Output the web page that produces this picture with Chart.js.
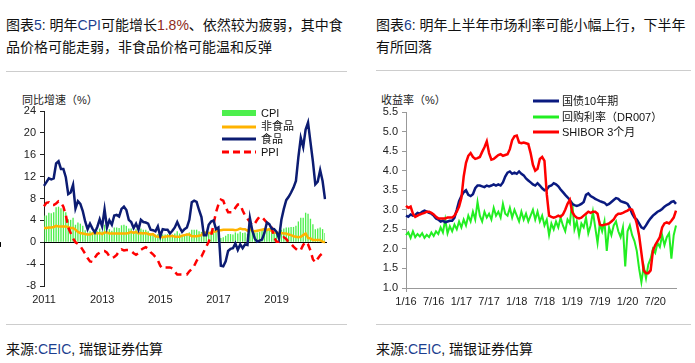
<!DOCTYPE html>
<html>
<head>
<meta charset="utf-8">
<script src="https://cdn.jsdelivr.net/npm/chart.js@4.4.0/dist/chart.umd.min.js"></script>
<style>
  body { margin:0; background:#fff; width:695px; height:363px; overflow:hidden; position:relative;
         font-family:"Liberation Sans","Noto Sans CJK SC",sans-serif; color:#111; }
  .t { position:absolute; font-size:14px; line-height:22px; white-space:nowrap; }
  .hr { position:absolute; height:1px; background:#cdcdcd; }
  .cv { position:absolute; top:95px; }
  .ax { position:absolute; font-size:11px; color:#222; white-space:nowrap; }
  .leg { position:absolute; font-size:11px; line-height:13px; white-space:nowrap; color:#111; }
  .blue { color:#1d3f8f; }
  .red { color:#8e2a1c; }
</style>
</head>
<body>

<div class="t" style="left:6px;top:14px">图表<span class="blue">5</span>: 明年<span class="blue">CPI</span>可能增长<span class="red">1.8%</span>、依然较为疲弱，其中食<br>品价格可能走弱，非食品价格可能温和反弹</div>
<div class="t" style="left:376px;top:14px">图表<span class="blue">6</span>: 明年上半年市场利率可能小幅上行，下半年<br>有所回落</div>
<div class="hr" style="left:6px;top:71px;width:341px"></div>
<div class="hr" style="left:376px;top:70px;width:315px"></div>

<div class="ax" style="left:22px;top:91px">同比增速（%）</div>
<div class="ax" style="left:381px;top:91px">收益率（%）</div>

<canvas id="c1" class="cv" style="left:0" width="345" height="220"></canvas>
<canvas id="c2" class="cv" style="left:350px" width="345" height="220"></canvas>

<!-- legend, left chart -->
<svg style="position:absolute;left:220px;top:106px" width="40" height="52">
  <rect x="2" y="4" width="34" height="6" fill="#4def4d"/>
  <line x1="2" y1="21" x2="36" y2="21" stroke="#ffb300" stroke-width="3"/>
  <line x1="2" y1="33" x2="36" y2="33" stroke="#0c1c72" stroke-width="3"/>
  <line x1="2" y1="46" x2="36" y2="46" stroke="#ff0000" stroke-width="3" stroke-dasharray="7,4"/>
</svg>
<div class="leg" style="left:261px;top:107px">CPI</div>
<div class="leg" style="left:261px;top:120px">非食品</div>
<div class="leg" style="left:261px;top:133px">食品</div>
<div class="leg" style="left:261px;top:146px">PPI</div>

<!-- legend, right chart -->
<svg style="position:absolute;left:531px;top:94px" width="30" height="44">
  <line x1="2" y1="7" x2="28" y2="7" stroke="#0a1a80" stroke-width="3"/>
  <line x1="2" y1="23" x2="28" y2="23" stroke="#22ee22" stroke-width="3"/>
  <line x1="2" y1="38" x2="28" y2="38" stroke="#ff0000" stroke-width="3"/>
</svg>
<div class="leg" style="left:562px;top:95px">国债10年期</div>
<div class="leg" style="left:562px;top:111px">回购利率（DR007）</div>
<div class="leg" style="left:562px;top:126px">SHIBOR 3个月</div>

<div class="hr" style="left:6px;top:324px;width:341px"></div>
<div class="hr" style="left:376px;top:324px;width:315px"></div>
<div class="t" style="left:6px;top:338px">来源:<span class="blue">CEIC</span>, 瑞银证券估算</div>
<div class="t" style="left:376px;top:338px">来源:<span class="blue">CEIC</span>, 瑞银证券估算</div>

<script>
/* ---------- 图表5 数据 (2011-01 .. 2020-09, 月度) ---------- */
const leftYears = ['2011', '2013', '2015', '2017', '2019'];

const cpi = [
  4.9, 4.9, 5.4, 5.3, 5.5, 6.4, 6.5, 6.2, 6.1, 5.5, 4.2, 4.1,
  4.5, 3.2, 3.6, 3.4, 3.0, 2.2, 1.8, 2.0, 1.9, 1.7, 2.0, 2.5,
  2.0, 3.2, 2.1, 2.4, 2.1, 2.7, 2.7, 2.6, 3.1, 3.2, 3.0, 2.5,
  2.5, 2.0, 2.4, 1.8, 2.5, 2.3, 2.3, 2.0, 1.6, 1.6, 1.4, 1.5,
  0.8, 1.4, 1.4, 1.5, 1.2, 1.4, 1.6, 2.0, 1.6, 1.3, 1.5, 1.6,
  1.8, 2.3, 2.3, 2.3, 2.0, 1.9, 1.8, 1.3, 1.9, 2.1, 2.3, 2.1,
  2.5, 0.8, 0.9, 1.2, 1.5, 1.5, 1.4, 1.8, 1.6, 1.9, 1.7, 1.8,
  1.5, 2.9, 2.1, 1.8, 1.8, 1.9, 2.1, 2.3, 2.5, 2.5, 2.2, 1.9,
  1.7, 1.5, 2.3, 2.5, 2.7, 2.7, 2.8, 2.8, 3.0, 3.8, 4.5, 4.5,
  5.4, 5.2, 4.3, 3.3, 2.4, 2.5, 2.7, 2.4, 1.7
];
const food = [
  10.3, 11.0, 11.7, 11.5, 11.7, 14.4, 14.8, 13.4, 13.4, 11.9, 8.8, 9.1,
  10.5, 6.2, 7.5, 7.0, 5.7, 3.8, 2.4, 3.4, 2.5, 1.8, 2.8, 4.2,
  2.9, 6.0, 2.7, 4.0, 3.2, 4.9, 5.0, 4.7, 6.1, 6.5, 5.9, 4.1,
  3.7, 2.6, 3.4, 2.3, 4.1, 3.7, 3.6, 3.4, 2.3, 2.2, 2.0, 2.9,
  1.1, 2.4, 2.3, 2.3, 1.6, 2.1, 2.7, 3.7, 2.7, 1.9, 2.4, 2.7,
  4.1, 7.3, 7.6, 7.4, 5.9, 4.6, 1.3, 1.3, 3.2, 3.8, 4.0, 2.4,
  2.7, -4.3, -4.4, -3.5, -1.6, -1.2, -1.1, -0.2, -1.4, -0.4, -1.1, -0.4,
  -0.5, 4.4, 2.1, 0.7, 0.1, 0.3, 0.5, 1.7, 3.6, 3.3, 2.5, 2.4,
  1.9, 0.7, 4.1, 6.1, 7.7, 8.3, 9.1, 10.0, 11.2, 15.5, 19.1, 17.4,
  20.6, 21.9, 18.3, 14.8, 10.6, 11.1, 13.2, 11.2, 7.9
];
const nonFood = [
  2.6, 2.6, 2.7, 2.7, 2.8, 3.0, 2.9, 2.9, 2.9, 2.9, 2.8, 2.6,
  2.6, 2.3, 1.9, 1.7, 1.6, 1.5, 1.4, 1.4, 1.6, 1.7, 1.6, 1.7,
  1.5, 1.8, 1.8, 1.6, 1.6, 1.6, 1.6, 1.6, 1.6, 1.6, 1.6, 1.7,
  1.9, 1.7, 1.9, 1.6, 1.7, 1.6, 1.7, 1.5, 1.4, 1.5, 1.1, 1.0,
  1.0, 0.9, 1.0, 1.1, 1.1, 1.2, 1.0, 1.0, 1.0, 1.2, 1.3, 1.4,
  1.4, 1.1, 1.1, 1.1, 1.2, 1.3, 1.8, 1.7, 1.7, 1.7, 1.9, 2.0,
  2.2, 2.2, 2.3, 2.3, 2.3, 2.3, 2.3, 2.2, 2.3, 2.5, 2.4, 2.4,
  2.1, 2.5, 2.1, 2.0, 2.1, 2.2, 2.3, 2.4, 2.2, 2.4, 2.0, 1.8,
  1.7, 1.7, 1.7, 1.6, 1.6, 1.4, 1.3, 1.1, 1.0, 0.9, 1.0, 1.3,
  1.6, 0.8, 0.7, 0.4, 0.4, 0.4, 0.4, 0.1, 0.0
];
const ppi = [
  6.6, 7.2, 7.3, 6.8, 6.8, 7.1, 7.5, 7.3, 6.5, 5.0, 2.7, 1.7,
  0.7, 0.0, -0.3, -0.7, -1.4, -2.1, -2.9, -3.5, -3.6, -2.8, -2.2, -1.9,
  -1.6, -1.6, -1.9, -2.6, -2.9, -2.7, -2.3, -1.6, -1.3, -1.5, -1.4, -1.4,
  -1.6, -2.0, -2.3, -2.0, -1.4, -1.1, -0.9, -1.2, -1.8, -2.2, -2.7, -3.3,
  -4.3, -4.8, -4.6, -4.6, -4.6, -4.8, -5.4, -5.9, -5.9, -5.9, -5.9, -5.9,
  -5.3, -4.9, -4.3, -3.4, -2.8, -2.6, -1.7, -0.8, 0.1, 1.2, 3.3, 5.5,
  6.9, 7.8, 7.6, 6.4, 5.5, 5.5, 5.5, 6.3, 6.9, 6.9, 5.8, 4.9,
  4.3, 3.7, 3.1, 3.4, 4.1, 4.7, 4.6, 4.1, 3.6, 3.3, 2.7, 0.9,
  0.1, 0.1, 0.4, 0.9, 0.6, 0.0, -0.3, -0.8, -1.2, -1.6, -1.4, -0.5,
  0.1, -0.4, -1.5, -3.1, -3.7, -3.0, -2.4, -2.0, -2.1
];

/* ---------- 图表6 数据 (2016-01 .. 2020-11, 半月) ---------- */
const rightTicks = ['1/16', '7/16', '1/17', '7/17', '1/18', '7/18', '1/19', '7/19', '1/20', '7/20'];

const cgb10y = [
  2.85, 2.82, 2.88, 2.85, 2.87, 2.92, 2.90, 2.95, 2.98, 2.95, 2.92, 2.90, 2.85, 2.78, 2.75, 2.70, 2.72, 2.68, 2.70, 2.72, 2.72, 2.80, 3.00, 3.22,
  3.35, 3.45, 3.50, 3.38, 3.35, 3.40, 3.55, 3.62, 3.62, 3.60, 3.58, 3.62, 3.60, 3.62, 3.65, 3.62, 3.65, 3.62, 3.70, 3.85, 3.95, 3.98, 3.92, 3.95,
  3.92, 3.98, 3.92, 3.88, 3.80, 3.75, 3.70, 3.65, 3.62, 3.68, 3.62, 3.55, 3.50, 3.52, 3.60, 3.62, 3.68, 3.65, 3.60, 3.52, 3.45, 3.38, 3.32, 3.25,
  3.15, 3.12, 3.10, 3.12, 3.15, 3.20, 3.38, 3.42, 3.35, 3.32, 3.28, 3.25, 3.22, 3.20, 3.18, 3.12, 3.15, 3.20, 3.25, 3.30, 3.28, 3.22, 3.20, 3.18,
  3.15, 3.05, 2.90, 2.80, 2.75, 2.65, 2.55, 2.52, 2.60, 2.70, 2.78, 2.85, 2.90, 2.95, 2.98, 3.02, 3.08, 3.12, 3.15, 3.20, 3.22, 3.15
];
const dr007 = [
  2.35, 2.42, 2.28, 2.45, 2.30, 2.38, 2.32, 2.40, 2.28, 2.36, 2.30, 2.42, 2.33, 2.45, 2.38, 2.55, 2.42, 2.75, 2.40, 2.58, 2.45, 2.62, 2.50, 2.70,
  2.55, 2.75, 2.60, 2.85, 2.70, 2.95, 2.75, 3.20, 2.85, 2.70, 2.95, 2.80, 2.90, 2.75, 3.05, 2.85, 2.95, 2.80, 3.15, 2.90, 2.85, 3.05, 2.80, 3.00,
  2.85, 2.70, 2.95, 2.75, 2.90, 2.70, 2.85, 3.00, 2.75, 2.95, 2.70, 2.85, 2.60, 2.75, 2.35, 2.65, 2.50, 2.70, 2.55, 2.80, 2.60, 2.45, 2.75, 2.65,
  3.20, 2.50, 2.70, 2.35, 2.65, 2.55, 2.80, 2.40, 2.60, 2.95, 2.55, 2.15, 2.65, 2.45, 2.70, 1.95, 2.55, 2.35, 2.60, 2.70, 2.45, 2.30, 2.55, 1.55,
  2.45, 2.60, 2.35, 2.20, 1.95, 1.50, 1.15, 1.55, 1.25, 1.60, 1.75, 2.00, 1.90, 2.15, 2.05, 2.35, 2.10, 2.30, 2.40, 1.75, 2.35, 2.60
];
const shibor3m = [
  3.10, 3.05, 3.08, 2.90, 2.82, 2.85, 2.88, 2.90, 2.92, 2.95, 2.95, 2.92, 2.88, 2.82, 2.78, 2.78, 2.78, 2.78, 2.80, 2.80, 2.80, 2.85, 2.95, 3.08,
  3.30, 3.85, 4.20, 4.38, 4.45, 4.35, 4.30, 4.32, 4.35, 4.48, 4.60, 4.75, 4.45, 4.28, 4.30, 4.35, 4.40, 4.42, 4.38, 4.40, 4.42, 4.55, 4.78, 4.88,
  4.90, 4.72, 4.70, 4.72, 4.70, 4.68, 4.45, 4.15, 4.00, 4.05, 4.30, 4.35, 4.25, 3.40, 2.85, 2.82, 2.80, 2.82, 2.85, 2.82, 2.88, 3.00, 3.15, 3.25,
  2.95, 2.85, 2.80, 2.78, 2.80, 2.85, 2.90, 2.95, 2.92, 2.95, 2.95, 2.90, 2.62, 2.60, 2.62, 2.63, 2.65, 2.70, 2.75, 2.85, 2.90, 2.90, 2.92, 2.95,
  2.98, 3.02, 3.00, 2.85, 2.65, 2.35, 1.90, 1.45, 1.38, 1.38, 1.45, 1.95, 2.10, 2.20, 2.30, 2.55, 2.65, 2.68, 2.65, 2.72, 2.80, 2.98
];

/* ---------- 通用设置 ---------- */
Chart.defaults.font.family = "'Liberation Sans', Arial, sans-serif";
Chart.defaults.font.size = 11;
Chart.defaults.color = '#222';
Chart.defaults.elements.point.radius = 0;
Chart.defaults.elements.line.tension = 0;

// 月份类目 (只用于类目轴)
const monthsLeft = cpi.map((_, i) => `${2011 + Math.floor(i / 12)}-${i % 12 + 1}`);
const halfMonths = cgb10y.map((_, i) => `${2016 + Math.floor(i / 24)}-${Math.floor(i / 2) % 12 + 1}-${i % 2 ? 16 : 1}`);

// 零线 + 零线上的年份刻度
const zeroLine = {
  id: 'zeroLine',
  beforeDatasetsDraw(chart) {
    const { ctx, chartArea, scales: { x, y } } = chart;
    const y0 = Math.round(y.getPixelForValue(0)) + 0.5;
    ctx.save();
    ctx.strokeStyle = '#000';
    ctx.lineWidth = 1;
    ctx.beginPath();
    ctx.moveTo(chartArea.left, y0);
    ctx.lineTo(chartArea.right + 2, y0);
    for (let i = 24; i < cpi.length; i += 24) {
      const px = Math.round(x.getPixelForTick(i)) + 0.5;
      ctx.moveTo(px, y0);
      ctx.lineTo(px, y0 + 4);
    }
    ctx.stroke();
    ctx.restore();
  }
};

/* ---------- 图表5 ---------- */
new Chart(document.getElementById('c1'), {
  type: 'bar',
  data: {
    labels: monthsLeft,
    datasets: [
      { type: 'line', label: '食品', data: food, borderColor: '#0c1c72', borderWidth: 2.5, order: 1 },
      { type: 'line', label: 'PPI', data: ppi, borderColor: '#ff0000', borderWidth: 2.5, borderDash: [7, 5], order: 2 },
      { type: 'line', label: '非食品', data: nonFood, borderColor: '#ffb300', borderWidth: 2.5, order: 3 },
      { type: 'bar', label: 'CPI', data: cpi, backgroundColor: '#4def4d', barPercentage: 0.55, categoryPercentage: 1, order: 4 }
    ]
  },
  options: {
    responsive: false,
    animation: false,
    layout: { padding: { top: 16, right: 20, bottom: 5, left: 8 } },
    plugins: { legend: { display: false }, tooltip: { enabled: false } },
    scales: {
      x: {
        offset: false,
        grid: { display: false, drawTicks: false },
        border: { display: false },
        ticks: {
          autoSkip: false, maxRotation: 0, minRotation: 0, padding: 7,
          callback: (v, i) => (i % 24 === 0 ? leftYears[i / 24] : null)
        },
        afterFit: s => { s.height = 24; }
      },
      y: {
        min: -8, max: 24,
        ticks: { stepSize: 4, padding: 4 },
        grid: { drawOnChartArea: false, color: '#222', tickLength: 4 },
        border: { color: '#222' },
        afterFit: s => { s.width = 36; }
      }
    }
  },
  plugins: [zeroLine]
});

/* ---------- 图表6 ---------- */
new Chart(document.getElementById('c2'), {
  type: 'line',
  data: {
    labels: halfMonths,
    datasets: [
      { label: '国债10年期', data: cgb10y, borderColor: '#0a1a80', borderWidth: 2.5, order: 2 },
      { label: '回购利率（DR007）', data: dr007, borderColor: '#22ee22', borderWidth: 2, order: 3 },
      { label: 'SHIBOR 3个月', data: shibor3m, borderColor: '#ff0000', borderWidth: 2.5, order: 1 }
    ]
  },
  options: {
    responsive: false,
    animation: false,
    layout: { padding: { top: 17, right: 19, bottom: 5, left: 0 } },
    plugins: { legend: { display: false }, tooltip: { enabled: false } },
    scales: {
      x: {
        offset: false,
        grid: {
          drawOnChartArea: false, tickLength: 4,
          color: c => (c.index % 12 === 0 ? '#999' : 'rgba(0,0,0,0)')
        },
        border: { color: '#999' },
        ticks: {
          autoSkip: false, maxRotation: 0, minRotation: 0, padding: 3,
          callback: (v, i) => (i % 12 === 0 ? rightTicks[i / 12] : null)
        },
        afterFit: s => { s.height = 22; }
      },
      y: {
        min: 1.0, max: 5.5,
        ticks: { stepSize: 0.5, padding: 4, callback: v => v.toFixed(1) },
        grid: { drawOnChartArea: false, tickLength: 4, color: '#999' },
        border: { color: '#999' },
        afterFit: s => { s.width = 56; }
      }
    }
  }
});
</script>
</body>
</html>
